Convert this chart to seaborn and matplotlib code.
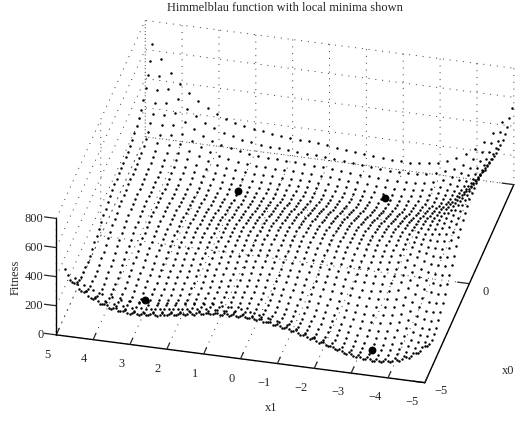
import matplotlib
matplotlib.use("Agg")
import matplotlib.pyplot as plt
import seaborn as sns
from mpl_toolkits.mplot3d import proj3d

# Provenance of the data: the fitness table below was NOT read dot by dot from the
# picture. It was worked out by hand from Himmelblau's function, which the chart's
# title names, on a grid inferred from the dots, and spot-checked against dot positions
# in the reference. The minima are the function's known minima, also checked that way.
x0_values = [-5, -4.75, -4.5, -4.25, -4, -3.75, -3.5, -3.25, -3, -2.75, -2.5, -2.25, -2, -1.75, -1.5, -1.25, -1, -0.75, -0.5, -0.25,
             0, 0.25, 0.5, 0.75, 1, 1.25, 1.5, 1.75, 2, 2.25, 2.5, 2.75, 3, 3.25, 3.5, 3.75, 4, 4.25, 4.5, 4.75]
x1_values = list(x0_values)
fitness = [
[250,197.1,158.3,131.8,116,109.3,110.3,117.6,130,146.3,165.3,186.2,208,229.9,251.3,271.5,290,306.4,320.3,331.6,340,345.6,348.3,348.4,346,341.5,335.3,327.9,320,312.2,305.3,300.3,298,299.6,306.3,319.3,340,369.8,410.3,463.1],
[218.6,163.3,122.1,93.3,75.3,66.4,65.3,70.5,80.9,95.3,112.4,131.5,151.5,171.7,191.5,210.1,227.1,242.1,254.6,264.6,271.8,276.2,277.8,276.8,273.4,268,260.9,252.7,244,235.5,228,222.4,219.6,220.8,227.1,239.8,260.3,289.9,330.2,383],
[200.3,142.6,99.1,68,47.9,36.8,33.7,36.9,45.3,57.9,73.1,90.5,108.8,127.4,145.6,162.7,178.3,191.9,203.1,211.8,217.9,221.1,221.7,219.7,215.3,209,201.1,192.2,182.8,173.7,165.6,159.5,156.3,157.1,163.1,175.5,195.9,225.3,265.6,318.4],
[193.3,133.3,87.5,54.3,32,18.9,13.8,15,21.6,32.3,45.8,61.5,78.2,95.2,111.9,127.6,141.8,154.1,164,171.6,176.5,178.7,178.3,175.3,170,162.9,154.3,144.7,134.7,125,116.4,109.9,106.3,106.8,112.6,124.8,145,174.4,214.7,267.5],
[196,133.7,85.7,50.4,26.1,11,3.9,3.3,8,17,28.8,42.9,58,73.5,88.8,103.1,116,127,135.7,142.2,146.1,147.3,145.9,142.1,135.9,128.1,118.8,108.6,98,87.8,78.8,71.9,68,68.2,73.9,85.9,106.1,135.5,175.8,228.8],
[206.8,142.3,92.2,54.8,28.5,11.5,2.5,0.1,3.1,10.4,20.6,33.1,46.7,60.8,74.7,87.7,99.3,109.1,116.7,122.1,125,125.3,123,118.4,111.5,103,93,82.3,71.2,60.5,51.2,43.9,39.8,39.8,45.4,57.3,77.5,107,147.4,200.6],
[224.3,157.6,105.5,66.1,37.9,19,8.2,4,5.4,11,19.7,30.7,42.8,55.5,68.1,79.9,90.3,99,105.5,109.9,111.9,111.3,108.2,102.8,95.2,86.1,75.6,64.4,52.8,41.7,32.1,24.6,20.3,20.2,25.7,37.6,57.9,87.5,128.1,181.5],
[247.1,178.3,124.3,82.9,52.9,32.1,19.6,13.7,13.5,17.5,24.7,34.3,45,56.4,67.7,78.4,87.6,95.3,100.8,104.2,105.3,103.9,100.1,94,85.8,76.1,65.1,53.5,41.5,30.1,20.3,12.6,8.1,8,13.5,25.4,45.8,75.6,116.5,170.2],
[274,203.1,147.2,104,72.1,49.6,35.4,27.9,26.1,28.6,34.4,42.6,52,62.1,72.2,81.8,90,96.7,101.2,103.8,104,101.9,97.4,90.7,81.9,71.7,60.3,48.3,36,24.3,14.4,6.5,2,1.9,7.4,19.4,40,70,111.3,165.4],
[303.8,230.9,173.1,128.1,94.5,70.3,54.5,45.4,42.1,43.2,47.6,54.5,62.6,71.5,80.5,89.1,96.3,102,105.6,107.4,106.9,104.1,99,91.7,82.4,71.8,60,47.7,35.1,23.2,13.2,5.3,0.8,0.7,6.3,18.5,39.4,69.7,111.4,165.9],
[335.4,260.6,201,154.2,118.9,93.1,75.7,65.2,60.4,60.1,63.2,68.9,75.8,83.6,91.5,99.1,105.4,110.2,113,114,112.8,109.4,103.8,95.9,86.2,75.2,63.1,50.6,37.8,25.8,15.7,7.8,3.4,3.4,9.2,21.6,42.8,73.5,115.7,170.6],
[367.8,291.1,229.8,181.3,144.4,117,98.1,86.2,80,78.4,80.3,84.8,90.6,97.3,104.2,110.9,116.3,120.3,122.3,122.6,120.8,116.8,110.8,102.4,92.3,81,68.7,56,43.1,31,20.9,13.1,8.8,9,15,27.7,49.3,80.4,123.2,178.6],
[400.1,321.6,258.7,208.6,170.1,141.2,120.8,107.6,100.1,97.2,97.9,101.3,106,111.7,117.7,123.5,128.1,131.4,132.7,132.3,130,125.5,119,110.3,99.8,88.3,75.8,63,50,37.9,27.9,20.2,16.1,16.6,22.9,36,58,89.6,133,189],
[431.6,351.3,286.8,235.2,195.2,164.8,143.1,128.6,119.8,115.7,115.3,117.6,121.3,126.1,131.2,136.2,140,142.7,143.3,142.4,139.6,134.6,127.8,118.7,108,96.3,83.7,70.8,57.8,45.8,35.9,28.4,24.5,25.4,32,45.6,68.1,100.2,144.3,201],
[461.5,379.5,313.5,260.4,218.9,187.2,164.2,148.4,138.4,133.2,131.7,133,135.8,139.7,144,148.3,151.4,153.4,153.5,152.1,148.8,143.5,136.4,127,116.1,104.3,91.6,78.7,65.8,53.9,44.2,37,33.4,34.6,41.7,55.8,78.8,111.6,156.4,213.8],
[489.2,405.6,338.1,283.6,240.7,207.7,183.5,166.5,155.4,149.1,146.6,147,148.9,152,155.5,159.1,161.6,163,162.6,160.8,157.1,151.5,144.2,134.6,123.5,111.7,99,86.1,73.4,61.7,52.2,45.3,42.1,43.7,51.3,66,89.6,123.1,168.7,226.9],
[514.2,429.1,360.1,304.3,260.1,225.8,200.4,182.3,170.2,162.8,159.4,159,160,162.4,165.2,168.2,170.1,171,170.1,168,164,158.1,150.7,140.9,129.7,118,105.3,92.5,80,68.6,59.4,52.9,50.1,52.2,60.4,75.7,100,134.2,180.7,239.7],
[536.1,449.5,379.2,322.1,276.6,241.1,214.6,195.4,182.3,174,169.7,168.5,168.8,170.5,172.7,175.1,176.5,177,175.7,173.3,169,162.9,155.4,145.5,134.3,122.7,110.1,97.5,85.3,74.2,65.4,59.3,57,59.7,68.5,84.5,109.5,144.5,191.9,251.8],
[554.5,466.5,394.9,336.6,289.9,253.3,225.7,205.5,191.5,182.3,177.2,175.2,174.9,175.9,177.6,179.5,180.4,180.6,178.9,176.3,171.8,165.6,158,148.1,137,125.5,113.1,100.7,88.9,78.1,69.8,64.2,62.4,65.8,75.2,92,117.8,153.7,202,262.9],
[569.3,480,407.1,347.6,299.8,262.1,233.5,212.4,197.5,187.5,181.6,179,178,178.5,179.7,181.1,181.7,181.5,179.6,176.8,172.2,165.9,158.3,148.5,137.5,126.2,114.1,102,90.5,80.2,72.4,67.3,66.2,70.2,80.4,98,124.7,161.5,210.8,272.8],
[580.2,489.6,415.6,355,306.1,267.4,237.9,215.9,200.2,189.4,182.8,179.6,178.1,178,178.8,179.9,180.1,179.7,177.6,174.7,170,163.7,156.2,146.5,135.7,124.6,112.9,101.1,90.1,80.3,73,68.6,68.1,72.9,83.9,102.4,130,167.8,218.2,281.3],
[587.3,495.5,420.4,358.7,308.8,269.2,238.8,216,199.5,188,180.8,177,175,174.5,174.9,175.7,175.7,175.1,172.9,169.9,165.2,159,151.6,142.1,131.5,120.7,109.4,98,87.5,78.3,71.6,67.9,68.2,73.8,85.7,105.1,133.7,172.6,224.1,288.4],
[590.6,497.6,421.5,358.8,307.9,267.4,236.2,212.7,195.5,183.4,175.6,171.3,168.9,168,168.1,168.6,168.5,167.7,165.5,162.5,157.8,151.7,144.5,135.3,125,114.6,103.7,92.8,82.9,74.3,68.3,65.3,66.5,72.9,85.8,106.2,135.8,175.8,228.5,294.1],
[590.2,496.1,419,355.4,303.6,262.3,230.3,206.2,188.3,175.7,167.4,162.6,159.9,158.6,158.5,158.8,158.6,157.7,155.5,152.6,148,142.1,135.2,126.3,116.3,106.4,96,85.6,76.4,68.4,63.2,61,63.1,70.4,84.3,105.8,136.5,177.7,231.7,298.6],
[586.3,491.2,413.2,348.7,296.1,254,221.3,196.6,178.2,165.1,156.3,151.2,148.1,146.6,146.3,146.5,146.2,145.3,143.2,140.4,136,130.3,123.8,115.2,105.7,96.3,86.4,76.7,68.1,60.9,56.5,55.2,58.2,66.5,81.5,104.1,136,178.4,233.8,302],
[579.3,483.3,404.4,339.1,285.7,243,209.6,184.4,165.5,151.9,142.7,137.3,134,132.3,131.9,132,131.7,130.9,128.9,126.3,122.1,116.7,110.6,102.5,93.5,84.6,75.3,66.3,58.5,52.1,48.6,48.2,52.2,61.6,77.7,101.5,134.6,178.3,235.1,304.8],
[569.6,472.7,393,327,272.9,229.6,195.6,169.9,150.6,136.6,127.1,121.4,117.9,116.1,115.6,115.7,115.5,114.8,113,110.7,106.8,101.8,96.1,88.5,80.1,71.8,63.2,54.9,47.9,42.4,39.9,40.5,45.5,56,73.3,98.4,132.8,177.9,236.1,307.3],
[557.7,460,379.6,312.9,258.2,214.3,179.8,153.7,134,119.7,110,104.1,100.4,98.5,98,98.2,98.1,97.6,96.1,94.1,90.6,86,80.8,73.8,66,58.4,50.5,43,36.9,32.3,30.9,32.5,38.6,50.3,68.9,95.3,131.1,177.6,237.3,310.1],
[544.3,445.8,364.7,297.4,242.1,197.7,162.8,136.3,116.3,101.8,91.9,85.9,82.1,80.2,79.7,80.1,80.2,79.9,78.7,77.1,74,69.9,65.3,58.9,51.8,44.9,37.9,31.2,26.1,22.5,22.2,24.9,32.2,45.1,65,92.8,130,178,239.3,313.7],
[530,430.8,349.1,281.2,225.4,180.6,145.3,118.5,98.2,83.6,73.5,67.5,63.7,61.8,61.5,62,62.4,62.4,61.6,60.4,57.8,54.3,50.3,44.6,38.3,32.2,26,20.3,16.2,13.6,14.5,18.4,26.9,41.1,62.4,91.6,130.3,179.9,242.8,318.9],
[515.6,415.8,333.5,265.1,208.9,163.7,128.1,101,80.6,65.8,55.7,49.7,45.9,44.2,44.1,44.8,45.5,45.9,45.5,44.8,42.8,39.9,36.6,31.7,26.2,20.9,15.7,11,7.9,6.5,8.6,13.7,23.5,39.1,61.8,92.5,132.8,184,248.6,326.5],
[502.1,401.7,318.9,250.1,193.5,148,112.1,84.8,64.3,49.4,39.3,33.4,29.7,28.2,28.4,29.4,30.4,31.3,31.4,31.3,29.9,27.7,25.1,21,16.4,12,7.8,4.2,2.2,2,5.4,11.8,23,40,64.2,96.5,138.4,191.3,257.6,337.3],
[490.4,389.4,306.2,237,180.1,134.4,98.3,70.9,50.3,35.4,25.3,19.6,16.1,14.8,15.3,16.7,18.1,19.5,20.2,20.7,20,18.6,16.8,13.6,9.9,6.5,3.4,0.9,0.1,1.1,5.9,13.6,26.2,44.7,70.5,104.4,148,202.7,270.8,352.4],
[481.5,380.1,296.5,227,169.9,124,87.8,60.3,39.7,24.9,14.9,9.4,6.1,5.1,6,7.8,9.7,11.7,13,14.2,14.3,13.7,12.8,10.5,7.8,5.5,3.5,2.2,2.6,4.9,11.1,20.2,34.3,54.4,81.8,117.4,162.8,219.3,289.3,372.8],
[476.7,374.9,291,221.2,164,118,81.7,54.2,33.6,18.9,9.1,3.9,0.9,0.3,1.6,3.9,6.4,9,11,13,13.9,14.1,14.2,12.9,11.2,10.1,9.2,9.2,10.9,14.6,22.2,32.8,48.5,70.2,99.3,136.6,183.9,242.2,314.2,399.7],
[477.2,375.1,290.9,221,163.6,117.6,81.3,53.8,33.4,18.8,9.3,4.4,1.8,1.6,3.4,6.3,9.4,12.7,15.4,18.3,20,21.2,22.3,22,21.5,21.5,21.9,23.2,26.3,31.4,40.5,52.7,70,93.4,124.3,163.4,212.5,272.8,346.8,434.3],
[484.4,382,297.6,227.6,170.2,124.2,87.9,60.6,40.3,26,16.8,12.3,10.1,10.4,12.8,16.3,20.1,24.1,27.6,31.4,34.1,36.3,38.4,39.3,39.9,41.2,42.9,45.6,50.1,56.7,67.4,81.2,100.2,125.3,158.1,199,250.1,312.4,388.4,478],
[499.7,397.1,312.6,242.5,185.1,139.2,103,75.9,55.9,41.9,33.1,29,27.3,28.2,31.2,35.4,39.9,44.7,49.1,53.8,57.5,60.8,64,66.1,68,70.6,73.7,77.8,83.8,92,104.3,119.8,140.5,167.4,202.1,244.9,298,362.4,440.5,532.3],
[524.7,422,337.4,267.3,210,164.2,128.2,101.3,81.6,68,59.7,56.1,54.9,56.4,60.1,65.1,70.4,76.1,81.4,87.1,91.9,96.3,100.7,104,107.3,111.2,115.8,121.4,129,138.7,152.7,170,192.5,221.3,258,302.7,357.9,424.4,504.7,598.7],
[561,458.3,373.7,303.6,246.5,200.8,165.1,138.5,119.2,106,98.2,95.2,94.6,96.8,101.2,107.1,113.2,119.9,126.2,132.9,138.9,144.4,150.1,154.7,159.4,164.7,170.8,178,187.2,198.6,214.4,233.5,257.8,288.6,327.3,374,431.4,500,582.6,679],
]
minima_x0 = [3, -2.805, -3.779, 3.584]
minima_x1 = [2, 3.131, -3.283, -1.848]
minima_fit = [0, 0, 0, 0]
x0_ticks = [-5, 0, 5]
x0_labeled = [(-5, "\u22125"), (0, "0")]
x1_ticks = [-5, -4, -3, -2, -1, 0, 1, 2, 3, 4, 5]
x1_labels = ["\u22125", "\u22124", "\u22123", "\u22122", "\u22121", "0", "1", "2", "3", "4", "5"]
z_ticks = [0, 200, 400, 600, 800]

sns.set_style("white")
plt.rcParams["font.family"] = ["Liberation Serif", "DejaVu Serif"]
FS = 8.9

px = []; py = []; pz = []
for i, a in enumerate(x0_values):
    for j, b in enumerate(x1_values):
        px.append(a); py.append(b); pz.append(fitness[i][j])

fig = plt.figure(figsize=(5.28, 4.21), dpi=100)
ax = fig.add_axes([0.0495, 0.0283, 0.96, 0.96], projection="3d", proj_type="ortho")
ax.view_init(elev=32.5, azim=193.57)
ax.set_box_aspect((1, 1, 0.364), zoom=1.33)

ax.scatter(px, py, pz, s=3.2, c="k", marker="o", linewidths=0, depthshade=False, clip_on=False)
ax.scatter(minima_x0, minima_x1, minima_fit, s=32, c="k", marker="o", linewidths=0, depthshade=False, clip_on=False)

ax.set_xlim(-5, 5, view_margin=0)
ax.set_ylim(-5, 5, view_margin=0)
ax.set_zlim(0, 800, view_margin=0)
ax.set_xticks(x0_ticks)
ax.set_yticks(x1_ticks)
ax.set_zticks(z_ticks)

for axis, out in ((ax.xaxis, 0.4), (ax.yaxis, 0.4), (ax.zaxis, 0.4)):
    axis.set_tick_params(label1On=False)
    axis.set_pane_color((1, 1, 1, 0))
    axis.pane.set_edgecolor((1, 1, 1, 0))
    axis.line.set_color("k")
    axis.line.set_linewidth(1.0)
    axis._axinfo["grid"].update(color="#333333", linestyle=(0, (1, 6)), linewidth=0.7)
    axis._axinfo["tick"].update(inward_factor=0.0, outward_factor=out, linewidth={True: 0.9, False: 0.9})
# z ticks run along the x1 direction, as in the reference
ax.zaxis._get_tickdir = lambda position: 1


def label3d(x, y, z, text, **kw):
    # place a flat text at the projected position of a 3D point
    X, Y, _ = proj3d.proj_transform(x, y, z, ax.get_proj())
    dx, dy = ax.transData.transform((X, Y))
    fig.text(dx / fig.bbox.width, dy / fig.bbox.height, text, fontsize=FS, va="center", **kw)


fig.canvas.draw()
for t, lab in zip(x1_ticks, x1_labels):
    shift = 0.12 if t < 0 else 0.0
    label3d(-6.0, t + shift, 0, lab, ha="center")
for t, lab in x0_labeled:
    label3d(t, -5.45, -45, lab, ha="center")
for t in z_ticks:
    label3d(-5, 5.35, t - 12, str(t), ha="right")

fig.text(285 / 528, 1 - 8 / 421, "Himmelblau function with local minima shown", ha="center", va="center", fontsize=FS)
fig.text(271 / 528, 1 - 408 / 421, "x1", ha="center", va="center", fontsize=FS)
fig.text(508 / 528, 1 - 371 / 421, "x0", ha="center", va="center", fontsize=FS)
fig.text(16 / 528, 1 - 277 / 421, "Fitness", ha="center", va="center", rotation=90, fontsize=FS)
fig.savefig("out.png", dpi=100)
